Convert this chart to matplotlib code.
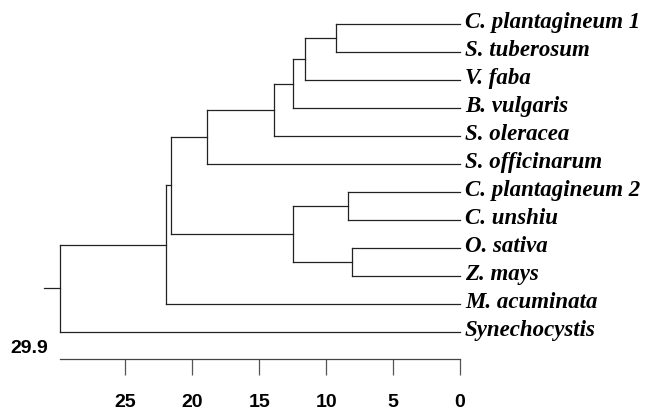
import matplotlib
matplotlib.use("Agg")
import matplotlib.pyplot as plt

# leaves, top to bottom
leaves = ["C. plantagineum 1", "S. tuberosum", "V. faba", "B. vulgaris",
          "S. oleracea", "S. officinarum", "C. plantagineum 2", "C. unshiu",
          "O. sativa", "Z. mays", "M. acuminata", "Synechocystis"]

# merges: (child a, child b, distance); ids >= 12 refer to earlier merges
merge_a = [0, 12, 13, 14, 15, 6, 8, 17, 16, 20, 21]
merge_b = [1, 2, 3, 4, 5, 7, 9, 18, 19, 10, 11]
merge_h = [9.3, 11.6, 12.5, 13.9, 18.9, 8.4, 8.1, 12.5, 21.6, 22.0, 29.9]
root_stub = 31.1
axis_max = 29.9
ticks = [0, 5, 10, 15, 20, 25]

fig = plt.figure(figsize=(6.45, 4.12), dpi=100)
ax = fig.add_axes([0, 53 / 412, 1, 359 / 412])
ax.set_xlim(34.38, -13.83)
ax.set_ylim(11.96, -0.857)

col = "#222222"
lw = 0.9
ypos = {i: float(i) for i in range(len(leaves))}
xpos = {i: 0.0 for i in range(len(leaves))}
for k, (a, b, h) in enumerate(zip(merge_a, merge_b, merge_h)):
    nid = len(leaves) + k
    ax.plot([xpos[a], h], [ypos[a], ypos[a]], color=col, lw=lw)
    ax.plot([xpos[b], h], [ypos[b], ypos[b]], color=col, lw=lw)
    ax.plot([h, h], [ypos[a], ypos[b]], color=col, lw=lw)
    ypos[nid] = (ypos[a] + ypos[b]) / 2
    xpos[nid] = h
root = len(leaves) + len(merge_h) - 1
ax.plot([xpos[root], root_stub], [ypos[root], ypos[root]], color=col, lw=lw)

for i, name in enumerate(leaves):
    ax.text(-0.37, i + 0.15, name, family="Liberation Serif", style="italic",
            weight="bold", fontsize=16.5, va="baseline", ha="left", color="black")

for s in ["top", "left", "right"]:
    ax.spines[s].set_visible(False)
ax.spines["bottom"].set_bounds(0, axis_max)
ax.spines["bottom"].set_color("#444444")
ax.spines["bottom"].set_linewidth(0.9)
ax.set_yticks([])
ax.set_xticks(ticks)
ax.set_xticklabels([str(t) for t in ticks], family="Liberation Sans",
                   weight="bold", fontsize=14)
ax.tick_params(axis="x", direction="out", length=11.5, width=0.9,
               color="#555555", pad=14)
ax.text(30.8, 11.57, "29.9", family="Liberation Sans", weight="bold",
        fontsize=14, ha="right", va="center")

fig.savefig("out.png", dpi=100)
